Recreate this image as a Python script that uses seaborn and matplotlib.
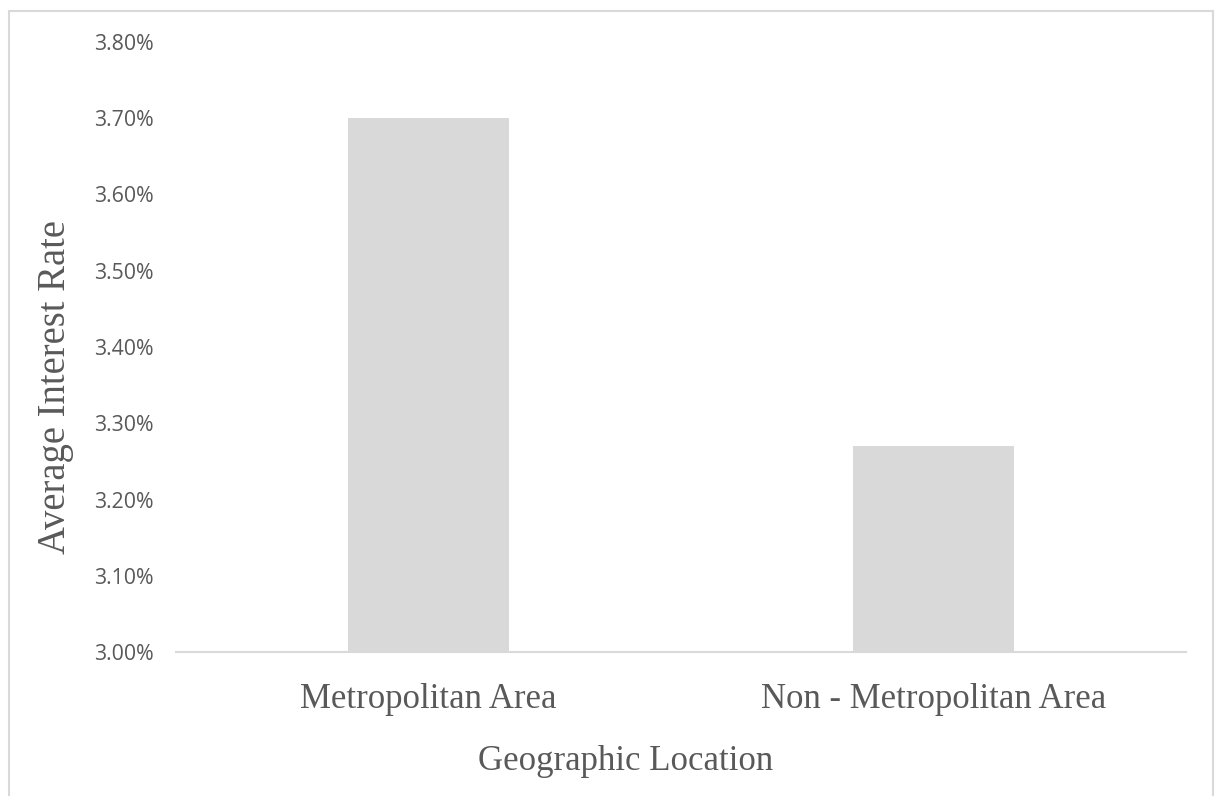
import matplotlib
matplotlib.use("Agg")
import matplotlib.pyplot as plt
from matplotlib.patches import Rectangle
from matplotlib.ticker import FuncFormatter, MultipleLocator
import seaborn as sns
import pandas as pd

# Average interest rate (%) by geographic location
locations = ["Metropolitan Area", "Non - Metropolitan Area"]
avg_rate = [3.70, 3.27]

sns.set_theme(style="white")
plt.rcParams["font.family"] = ["DejaVu Sans"]

W, H = 1229, 796
fig = plt.figure(figsize=(W / 100, H / 100), dpi=100)
ax = fig.add_axes([176 / W, (H - 652) / H, 1010 / W, 610 / H])

df = pd.DataFrame({"location": locations, "rate": avg_rate})
sns.barplot(data=df, x="location", y="rate", color="#d9d9d9", width=0.317,
            saturation=1, ax=ax, edgecolor="none")

ax.set_ylim(3.0, 3.8)
ax.yaxis.set_major_locator(MultipleLocator(0.1))
ax.yaxis.set_major_formatter(FuncFormatter(lambda v, _: f"{v:.2f}%"))
ax.set_xlim(-0.5, 1.5)

for s in ["top", "right", "left"]:
    ax.spines[s].set_visible(False)
ax.spines["bottom"].set_color("#d9d9d9")
ax.spines["bottom"].set_linewidth(1.5)
ax.tick_params(axis="both", length=0)
ax.tick_params(axis="y", pad=16, labelsize=15.3, labelcolor="#595959")
for lab in ax.get_yticklabels():
    lab.set_family("Open Sans")
ax.tick_params(axis="x", pad=22, labelcolor="#595959")
for lab in ax.get_xticklabels():
    lab.set_family("Liberation Serif")
    lab.set_fontsize(25)

ax.set_xlabel("")
ax.set_ylabel("")
fig.text(56 / W, 1 - 387 / H, "Average Interest Rate", rotation=90,
         ha="center", va="center", family="Liberation Serif", fontsize=27.8,
         color="#595959")
fig.text(626 / W, 1 - 762 / H, "Geographic Location", ha="center",
         va="center", family="Liberation Serif", fontsize=25, color="#595959")

# chart frame
fig.patches.append(Rectangle((9 / W, -0.05), (1213 - 9) / W, 1 - 11 / H + 0.05,
                             transform=fig.transFigure, fill=False,
                             edgecolor="#d9d9d9", linewidth=1.5))

fig.savefig("out.png", dpi=100, facecolor="white")
